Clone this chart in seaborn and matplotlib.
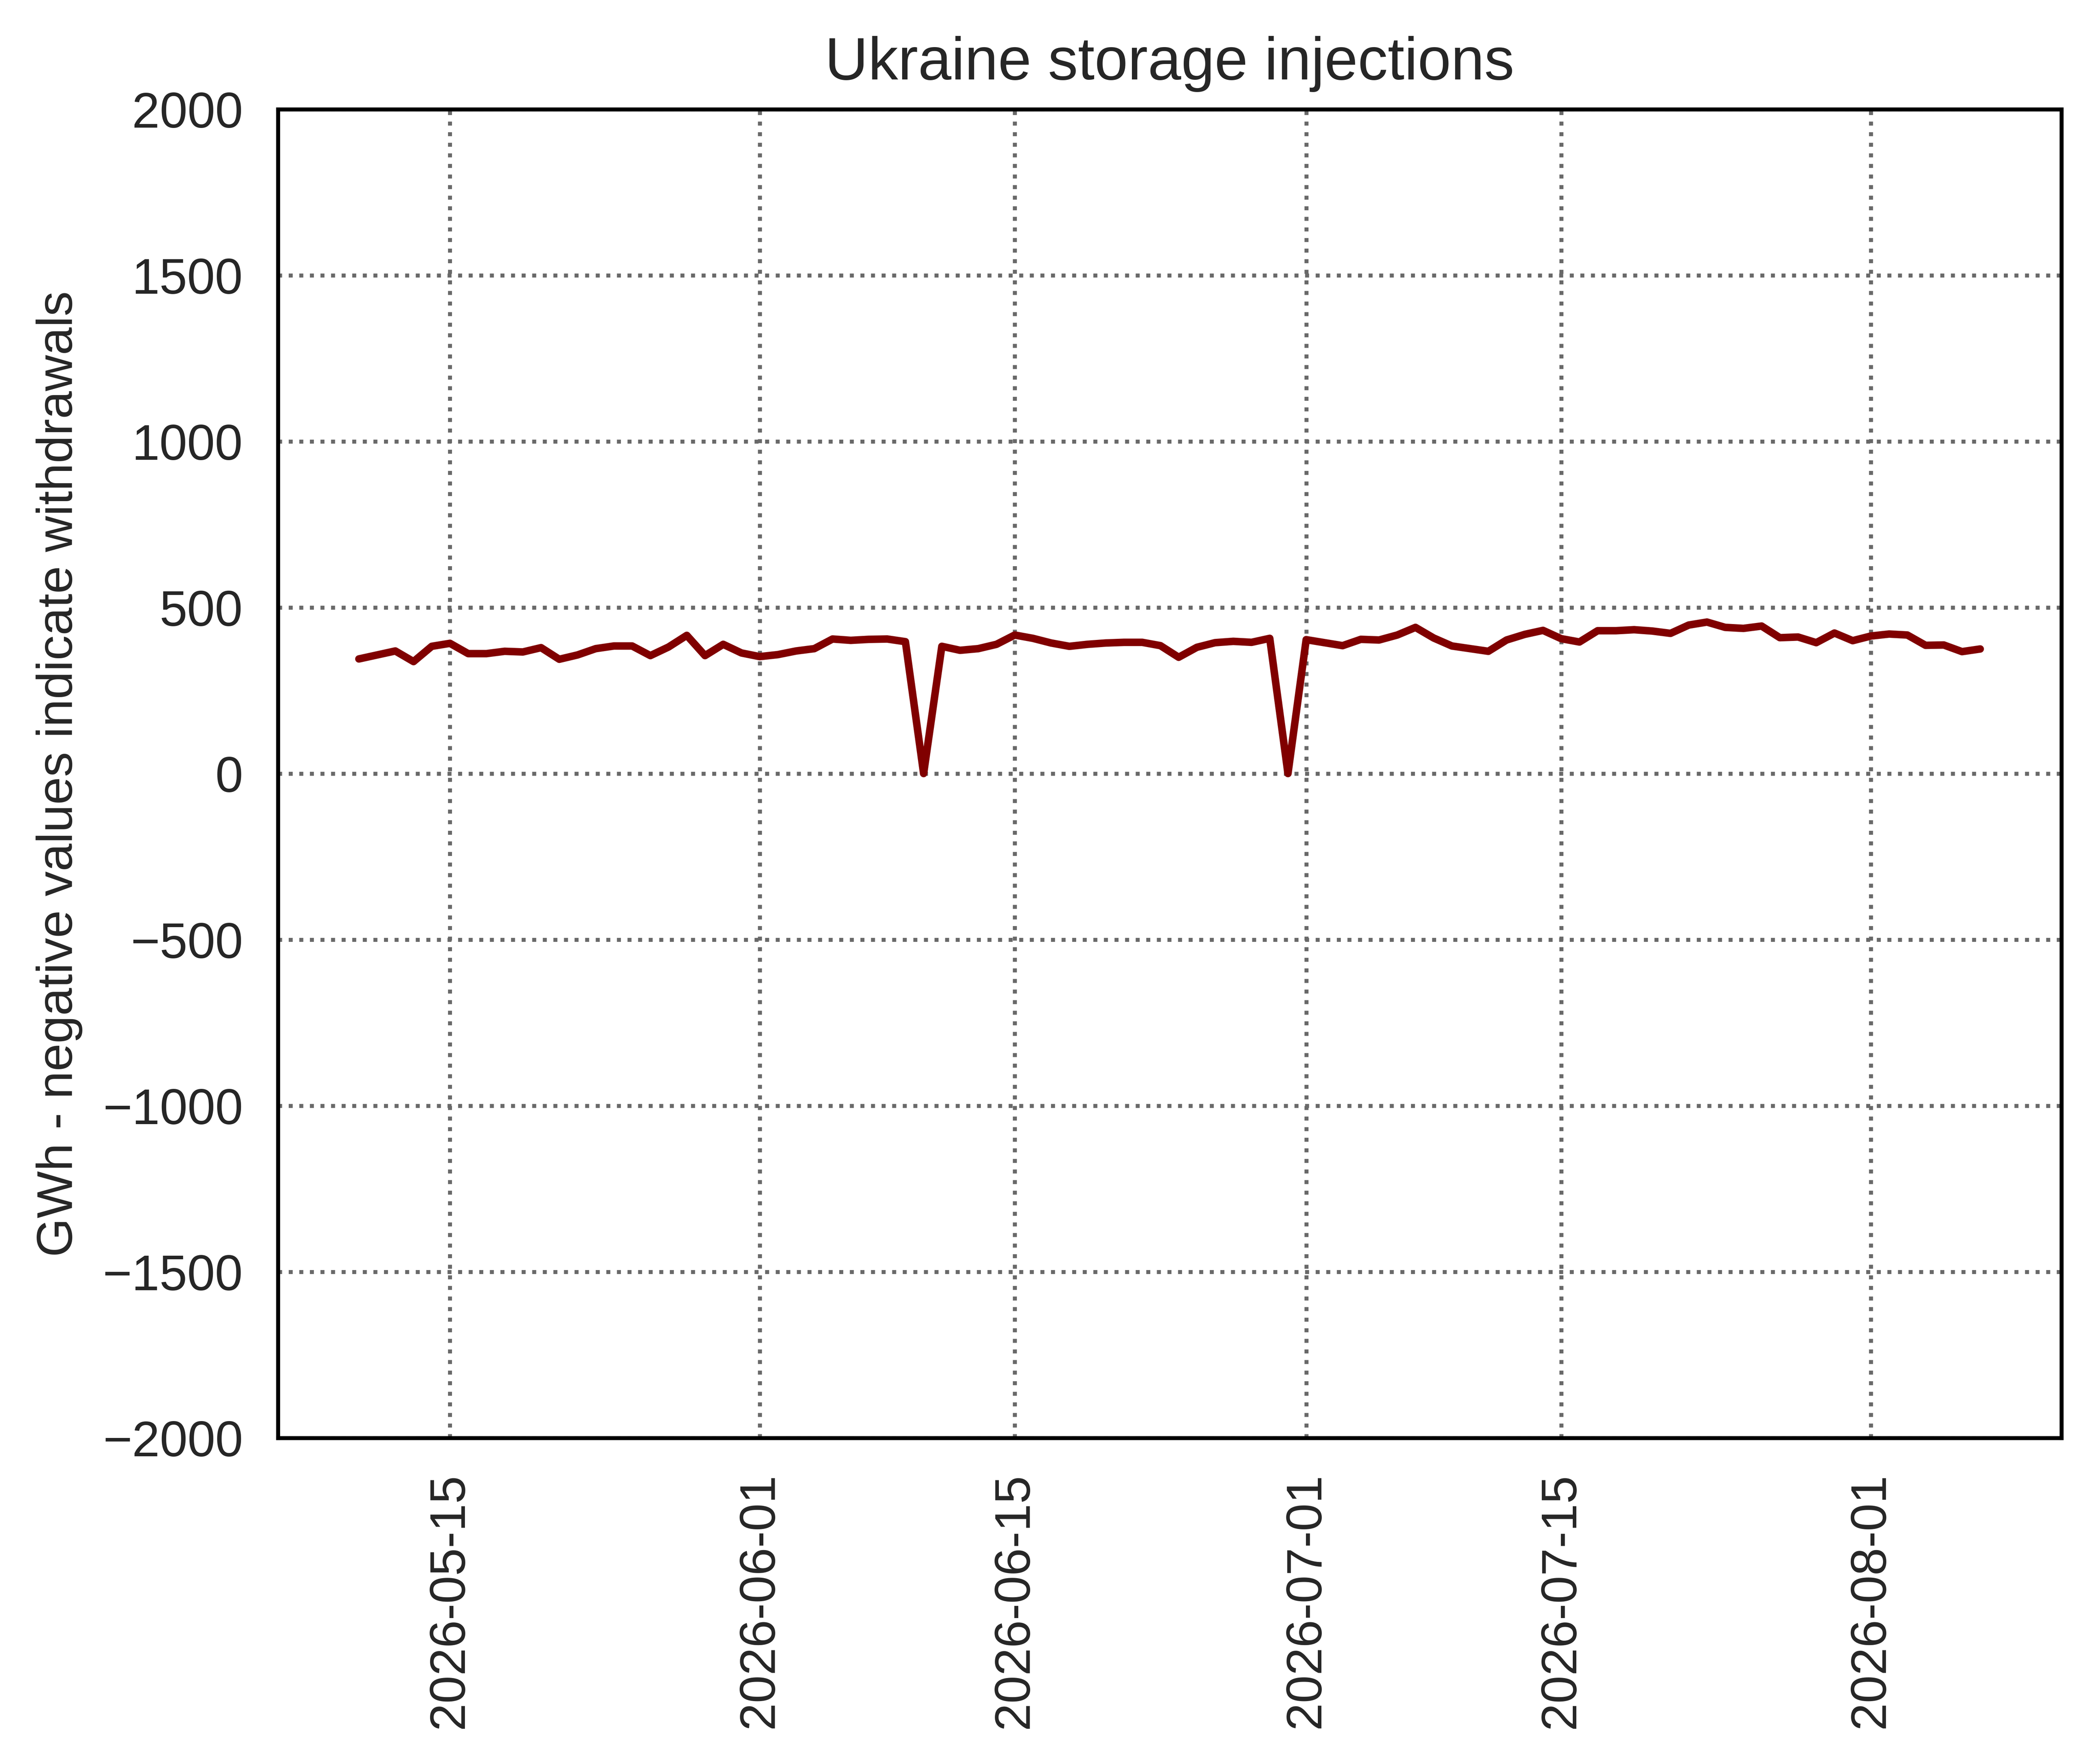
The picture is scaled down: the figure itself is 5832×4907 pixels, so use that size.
import pandas as pd
import numpy as np
import matplotlib
matplotlib.use('Agg')
import matplotlib.pyplot as plt
import seaborn as sns

# daily injections, GWh
start_date = '2026-05-10'
may_vals = [345, 357, 369, 337, 383, 392, 361, 361, 368, 366, 379, 344, 357, 376,
            384, 384, 355, 381, 416, 355, 389, 363]
jun_vals = [352, 358, 369, 376, 405, 401, 404, 405, 397, 0, 383, 371, 376, 389, 417,
            407, 393, 383, 389, 393, 395, 395, 385, 350, 380, 394, 398, 395, 407, 0]
jul_vals = [403, 394, 385, 404, 402, 417, 440, 408, 384, 376, 368, 402, 419, 431, 406,
            396, 430, 430, 433, 429, 422, 447, 456, 440, 437, 444, 409, 411, 394, 423, 400]
aug_vals = [414, 420, 417, 386, 387, 367, 375]

values = may_vals + jun_vals + jul_vals + aug_vals
dates = pd.date_range(start_date, periods=len(values), freq='D')
df = pd.DataFrame({'date': dates, 'injection': values})

sns.set_style('white')
plt.rcParams['font.family'] = ['Liberation Sans', 'DejaVu Sans']
plt.rcParams['axes.edgecolor'] = 'black'
plt.rcParams['axes.linewidth'] = 0.8

fig, ax = plt.subplots(figsize=(6.4, 4.8))
sns.lineplot(data=df, x='date', y='injection', ax=ax, color='maroon', linewidth=1.5)

ax.set_ylim(-2000, 2000)
ax.set_title('Ukraine storage injections', fontsize=12)
ax.set_ylabel('GWh - negative values indicate withdrawals', fontsize=10)
ax.set_xlabel('')
ax.grid(True, linestyle=':', color='dimgray', linewidth=0.8)
ax.tick_params(axis='x', labelrotation=90, labelsize=10)
ax.tick_params(axis='y', labelsize=10)

plt.savefig('out.png', dpi=1000, bbox_inches='tight')
